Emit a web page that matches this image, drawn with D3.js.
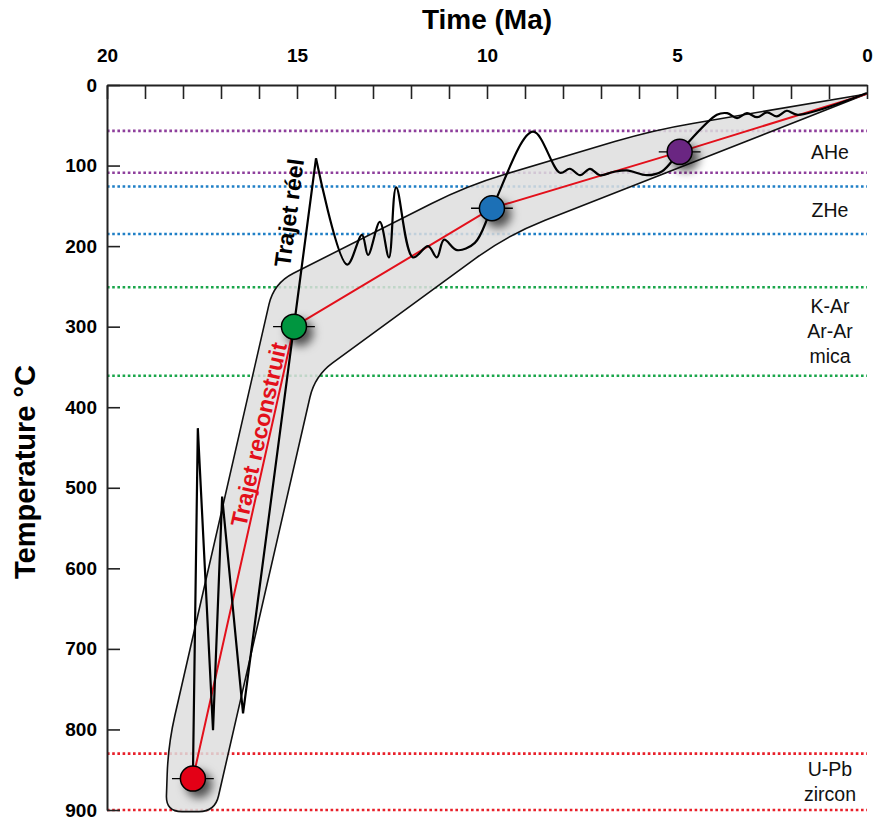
<!DOCTYPE html>
<html>
<head>
<meta charset="utf-8">
<script src="https://cdn.jsdelivr.net/npm/d3@7"></script>
<style>
  html, body { margin: 0; padding: 0; background: #fff; }
  svg { display: block; font-family: "Liberation Sans", Arial, Helvetica, sans-serif; }
</style>
</head>
<body>
<script>
// ---------------- DATA ----------------
const timeTicks = [20, 15, 10, 5, 0];
const timeMinorTicks = d3.range(0, 21, 1);
const tempTicks = [0, 100, 200, 300, 400, 500, 600, 700, 800, 900];

// closure-temperature windows (°C)
const windowNames = [["AHe"], ["ZHe"], ["K-Ar", "Ar-Ar", "mica"], ["U-Pb", "zircon"]];
const windowLow = [57, 126, 251, 830];
const windowHigh = [109, 185, 361, 900];

// reconstructed path (thermochronometer points)
const reconTime = [17.74, 15.08, 9.87, 4.93, 0];
const reconTemp = [861, 300, 153, 83, 11];
const dotTime = [17.74, 15.08, 9.87, 4.93];
const dotTemp = [861, 300, 153, 83];
const dotErr = [0.55, 0.55, 0.55, 0.55];

// envelope of possible paths
const bandTime = [0, 9.45, 14.53, 17.16, 18.45, 18.39, 15.61, 10.53, 5.63];
const bandTemp = [11, 186, 361, 902, 902, 819, 246, 125, 56];

// "real" path: jagged part then smooth part
const realJagTime = [17.74, 17.61, 17.21, 16.97, 16.42, 14.50];
const realJagTemp = [861, 426, 801, 511, 780, 91];
const realSmoothTime = [14.50, 13.68, 13.29, 13.13, 12.82, 12.58, 12.39, 11.95, 11.55, 11.32, 11.13, 10.79, 10.32, 9.87,
  8.79, 8.08, 7.82, 7.55, 7.29, 7.03, 6.68, 6.32, 5.79, 5.39, 4.93,
  3.95, 3.68, 3.42, 3.16, 2.89, 2.63, 2.37, 2.11, 1.82, 0];
const realSmoothTemp = [91, 223, 186, 211, 170, 214, 127, 214, 200, 214, 192, 205, 196, 153,
  58, 109, 104, 112, 104, 112, 108, 106, 112, 107, 83,
  37, 35, 41, 35, 40, 34, 39, 32, 37, 10];

// ---------------- STYLE ----------------
const W = 874, H = 821;
const windowColors = ["#8e3f9c", "#1f7fc6", "#1aa64b", "#e8202a"];
const dotColors = ["#e30613", "#00963f", "#1a6fb6", "#6a2582"];
const bandRadii = [2, 40, 22, 16, 16, 30, 22, 40, 40];

const svg = d3.select("body").append("svg").attr("width", W).attr("height", H);

const defs = svg.append("defs");
const f = defs.append("filter").attr("id", "shadow")
  .attr("x", "-80%").attr("y", "-80%").attr("width", "260%").attr("height", "260%");
f.append("feDropShadow").attr("dx", 6).attr("dy", 6).attr("stdDeviation", 5)
  .attr("flood-color", "#000").attr("flood-opacity", 0.65);

const x = d3.scaleLinear().domain([20, 0]).range([107, 867]);
const y = d3.scaleLinear().domain([0, 900]).range([85, 810]);

// dotted closure lines
const gLines = svg.append("g");
windowLow.forEach((lo, i) => {
  [lo, windowHigh[i]].forEach(T => {
    gLines.append("line")
      .attr("x1", x(20)).attr("x2", x(0))
      .attr("y1", y(T)).attr("y2", y(T))
      .attr("stroke", windowColors[i]).attr("stroke-width", 2.6)
      .attr("stroke-dasharray", "2.6,2.6");
  });
});

// envelope band with rounded corners
function roundedPolygon(pts, radii) {
  const n = pts.length, p = d3.path();
  for (let i = 0; i < n; i++) {
    const a = pts[(i - 1 + n) % n], v = pts[i], b = pts[(i + 1) % n];
    const d1 = Math.hypot(a[0] - v[0], a[1] - v[1]), d2 = Math.hypot(b[0] - v[0], b[1] - v[1]);
    const k1 = Math.min(radii[i] / d1, 0.5), k2 = Math.min(radii[i] / d2, 0.5);
    const s = [v[0] + (a[0] - v[0]) * k1, v[1] + (a[1] - v[1]) * k1];
    const e = [v[0] + (b[0] - v[0]) * k2, v[1] + (b[1] - v[1]) * k2];
    if (i === 0) p.moveTo(s[0], s[1]); else p.lineTo(s[0], s[1]);
    p.quadraticCurveTo(v[0], v[1], e[0], e[1]);
  }
  p.closePath();
  return p.toString();
}
const bandPts = bandTime.map((t, i) => [x(t), y(bandTemp[i])]);
svg.append("path")
  .attr("d", roundedPolygon(bandPts, bandRadii))
  .attr("fill", "#dedede").attr("fill-opacity", 0.85)
  .attr("stroke", "#111").attr("stroke-width", 1.6);

// reconstructed path
const lineGen = d3.line().x(d => x(d[0])).y(d => y(d[1]));
svg.append("path")
  .attr("d", lineGen(reconTime.map((t, i) => [t, reconTemp[i]])))
  .attr("fill", "none").attr("stroke", "#e3101b").attr("stroke-width", 2);

// real path
svg.append("path")
  .attr("d", lineGen(realJagTime.map((t, i) => [t, realJagTemp[i]])))
  .attr("fill", "none").attr("stroke", "#000").attr("stroke-width", 2.2)
  .attr("stroke-linejoin", "miter");
svg.append("path")
  .attr("d", d3.line().x(d => x(d[0])).y(d => y(d[1])).curve(d3.curveCatmullRom.alpha(0.5))(
    realSmoothTime.map((t, i) => [t, realSmoothTemp[i]])))
  .attr("fill", "none").attr("stroke", "#000").attr("stroke-width", 2.2);

// dots with error bars
dotTime.forEach((t, i) => {
  svg.append("line")
    .attr("x1", x(t + dotErr[i])).attr("x2", x(t - dotErr[i]))
    .attr("y1", y(dotTemp[i])).attr("y2", y(dotTemp[i]))
    .attr("stroke", "#000").attr("stroke-width", 1.3);
  svg.append("circle")
    .attr("cx", x(t)).attr("cy", y(dotTemp[i])).attr("r", 12.5)
    .attr("fill", dotColors[i]).attr("stroke", "#000").attr("stroke-width", 1.5)
    .attr("filter", "url(#shadow)");
});

// path labels
svg.append("text")
  .attr("transform", `translate(${x(15.0)},${y(160)}) rotate(-82.5)`)
  .attr("text-anchor", "middle").attr("font-weight", "bold").attr("font-size", 23)
  .attr("fill", "#000").text("Trajet réel");
svg.append("text")
  .attr("transform", `translate(${x(15.8)},${y(436)}) rotate(-77.4)`)
  .attr("text-anchor", "middle").attr("font-weight", "bold").attr("font-size", 23)
  .attr("fill", "#e3101b").text("Trajet reconstruit");

// window labels
windowNames.forEach((lines, i) => {
  const mid = y((windowLow[i] + windowHigh[i]) / 2);
  const n = lines.length, lh = 25;
  lines.forEach((s, j) => {
    svg.append("text")
      .attr("x", 830).attr("y", mid + (j - (n - 1) / 2) * lh)
      .attr("dy", "0.35em").attr("text-anchor", "middle")
      .attr("font-size", 19.5).attr("fill", "#111").text(s);
  });
});

// axes
const xAxis = d3.axisTop(x).tickValues(timeMinorTicks)
  .tickFormat(d => timeTicks.includes(d) ? d : "")
  .tickSizeInner(-14).tickSizeOuter(0).tickPadding(23);
const gx = svg.append("g").attr("transform", `translate(0,${y(0)})`).call(xAxis);
const yAxis = d3.axisLeft(y).tickValues(tempTicks)
  .tickSizeInner(-13).tickSizeOuter(0).tickPadding(10);
const gy = svg.append("g").attr("transform", `translate(${x(20)},0)`).call(yAxis);
[gx, gy].forEach(g => {
  g.selectAll("path.domain").attr("stroke", "#222").attr("stroke-width", 2);
  g.selectAll(".tick line").attr("stroke", "#222").attr("stroke-width", 1.6);
  g.selectAll(".tick text").attr("font-size", 19).attr("font-weight", "bold")
    .attr("fill", "#000").attr("font-family", "'Liberation Sans', Arial, sans-serif");
});

// axis titles
svg.append("text").attr("x", (x(20) + x(0)) / 2).attr("y", 29)
  .attr("text-anchor", "middle").attr("font-weight", "bold").attr("font-size", 28)
  .text("Time (Ma)");
svg.append("text").attr("transform", `translate(35,${472}) rotate(-90)`)
  .attr("text-anchor", "middle").attr("font-weight", "bold").attr("font-size", 29)
  .text("Temperature °C");
</script>
</body>
</html>
